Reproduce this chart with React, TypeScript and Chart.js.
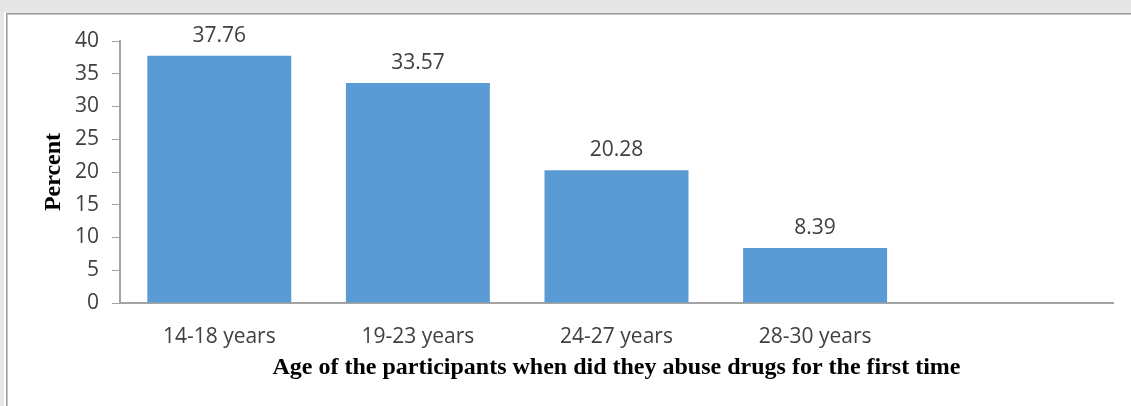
import React, { useEffect, useRef } from "react";
import { Chart, registerables } from "chart.js";

Chart.register(...registerables);

// Age groups at first drug use, with the share of participants (%)
const ageGroups: string[] = ["14-18 years", "19-23 years", "24-27 years", "28-30 years", ""];
const percentValues: (number | null)[] = [37.76, 33.57, 20.28, 8.39, null];
const yTicks: number[] = [0, 5, 10, 15, 20, 25, 30, 35, 40];

const WIDTH = 1131;
const HEIGHT = 406;
const BAR_COLOR = "#5B9BD5";
const AXIS_COLOR = "#a3a3a3";
const TEXT_COLOR = "#404040";
const SANS = '"Open Sans", "DejaVu Sans", sans-serif';
const SERIF = '"Liberation Serif", "Times New Roman", serif';

// Writes each bar's value just above it
const valueLabels = {
  id: "valueLabels",
  afterDatasetsDraw(chart: any) {
    const ctx = chart.ctx as CanvasRenderingContext2D;
    const meta = chart.getDatasetMeta(0);
    ctx.save();
    ctx.font = `21px ${SANS}`;
    ctx.fillStyle = TEXT_COLOR;
    ctx.textAlign = "center";
    ctx.textBaseline = "alphabetic";
    meta.data.forEach((bar: any, i: number) => {
      const v = percentValues[i];
      if (v == null) return;
      ctx.fillText(v.toFixed(2), bar.x, bar.y - 14);
    });
    ctx.restore();
  },
};

export default function App() {
  const canvasRef = useRef<HTMLCanvasElement | null>(null);

  useEffect(() => {
    if (!canvasRef.current) return;
    const chart = new Chart(canvasRef.current, {
      type: "bar",
      data: {
        labels: ageGroups,
        datasets: [
          {
            data: percentValues as any,
            backgroundColor: BAR_COLOR,
            borderWidth: 0,
            barPercentage: 0.725,
            categoryPercentage: 1.0,
          },
        ],
      },
      options: {
        responsive: false,
        animation: false,
        devicePixelRatio: 1,
        layout: { padding: { left: 0, right: 18, top: 41, bottom: 0 } },
        plugins: {
          legend: { display: false },
          tooltip: { enabled: false },
        },
        scales: {
          x: {
            grid: { display: true, drawOnChartArea: false, drawTicks: false, color: AXIS_COLOR },
            border: { display: true, color: AXIS_COLOR, width: 2 },
            ticks: {
              color: TEXT_COLOR,
              font: { family: SANS, size: 21 },
              padding: 21,
              maxRotation: 0,
              autoSkip: false,
            },
            title: {
              display: true,
              text: "Age of the participants when did they abuse drugs for the first time",
              color: "#000000",
              font: { family: SERIF, size: 24, weight: "bold" },
              padding: { top: 0, bottom: 24 },
            },
            afterFit(scale: any) {
              scale.height = 103;
            },
          },
          y: {
            min: 0,
            max: 40,
            afterBuildTicks(scale: any) {
              scale.ticks = yTicks.map((v) => ({ value: v }));
            },
            grid: {
              display: true,
              drawOnChartArea: false,
              drawTicks: true,
              tickLength: 8,
              color: AXIS_COLOR,
            },
            border: { display: true, color: AXIS_COLOR, width: 2 },
            ticks: {
              color: TEXT_COLOR,
              font: { family: SANS, size: 21 },
              padding: 13,
            },
            title: {
              display: true,
              text: "Percent",
              color: "#000000",
              font: { family: SERIF, size: 24, weight: "bold" },
              padding: { top: 39, bottom: 0 },
            },
            afterFit(scale: any) {
              scale.width = 120;
            },
          },
        },
      },
      plugins: [valueLabels],
    });
    return () => chart.destroy();
  }, []);

  return (
    <div
      style={{
        position: "absolute",
        left: 0,
        top: 0,
        width: WIDTH,
        height: HEIGHT,
        background: "#e6e6e6",
        overflow: "hidden",
      }}
    >
      <div
        style={{
          position: "absolute",
          left: 4,
          top: 12,
          width: 2,
          bottom: 0,
          background: "#ffffff",
        }}
      />
      <div
        style={{
          position: "absolute",
          left: 6,
          top: 13,
          right: 0,
          bottom: 0,
          background: "#ffffff",
          borderTop: "1px solid #9a9a9a",
          borderLeft: "1px solid #9a9a9a",
        }}
      >
        <div
          style={{
            position: "absolute",
            left: 0,
            top: 0,
            right: 0,
            bottom: 0,
            borderTop: "1px solid #c6c6c6",
            borderLeft: "1px solid #c6c6c6",
          }}
        />
      </div>
      <canvas
        ref={canvasRef}
        width={WIDTH}
        height={HEIGHT}
        style={{ position: "absolute", left: 0, top: 0, width: WIDTH, height: HEIGHT }}
      />
    </div>
  );
}
